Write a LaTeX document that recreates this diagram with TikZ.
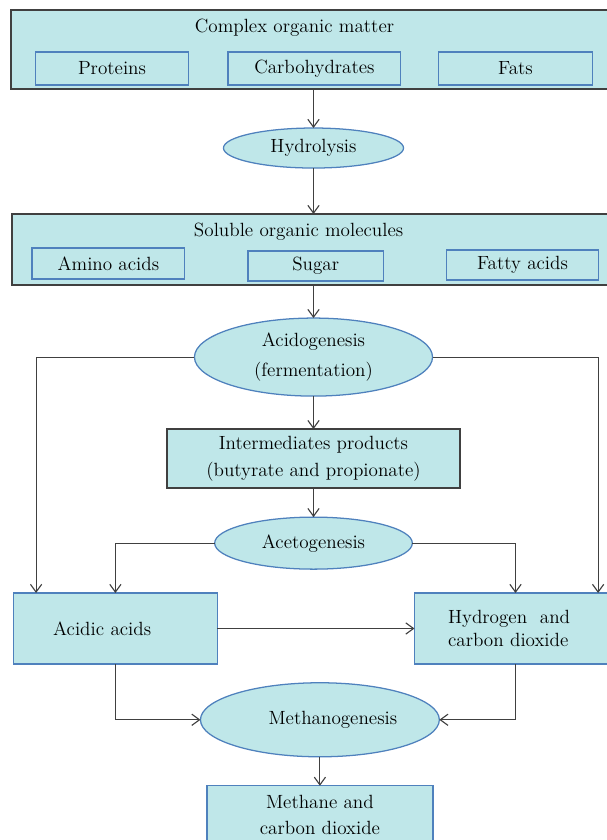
\documentclass[tikz,border=0pt]{standalone}
\usetikzlibrary{positioning,arrows.meta,shapes.geometric}
\definecolor{boxfill}{RGB}{191,231,233}
\definecolor{edgeblue}{RGB}{79,129,189}
\definecolor{edgegray}{RGB}{64,64,64}

\begin{document}
\begin{tikzpicture}[
    x=0.025cm, y=-0.025cm,
    >={Straight Barb[length=5.5pt,width=8pt]},
    font=\fontsize{13.6}{19}\selectfont,
    bigbox/.style={
        draw=edgegray,
        line width=1.1pt,
        fill=boxfill,
        inner sep=0pt,
        outer sep=0pt
    },
    item/.style={
        draw=edgeblue,
        line width=0.9pt,
        fill=boxfill,
        inner sep=0pt,
        outer sep=0pt
    },
    stage/.style={
        ellipse,
        draw=edgeblue,
        line width=0.9pt,
        fill=boxfill,
        inner sep=0pt,
        outer sep=0pt,
        align=center
    },
    product/.style={
        draw=edgeblue,
        line width=0.9pt,
        fill=boxfill,
        inner sep=0pt,
        outer sep=0pt,
        align=center
    },
    arrow/.style={->,draw=edgegray,line width=0.8pt}
]

\useasboundingbox (0,0) rectangle (606,840);

%------------------------------------------------
% Complex organic matter
%------------------------------------------------

\node[bigbox,minimum width=15.125cm,minimum height=1.975cm] (organic) at (313.5,49.5) {};
\node (organict) at (294.5,28) {Complex organic matter};

\node[item,minimum width=3.815cm,minimum height=0.825cm] (proteins) at (112,68.5) {Proteins};
\node[item,minimum width=4.32cm,minimum height=0.825cm] (carbo) at (314.4,68.5) {Carbohydrates};
\node[item,minimum width=3.85cm,minimum height=0.825cm] (fats) at (515.5,68.5) {Fats};

%------------------------------------------------
% Hydrolysis
%------------------------------------------------

\node[stage,minimum width=4.5cm,minimum height=1cm,below=0.975cm of organic] (hydro)
{Hydrolysis};

\draw[arrow] (organic)--(hydro);

%------------------------------------------------
% Soluble organic molecules
%------------------------------------------------

\node[bigbox,minimum width=15.06cm,minimum height=1.775cm,below=1.15cm of hydro] (soluble) {};
\node (solublet) at (298.6,232) {Soluble organic molecules};

\node[item,minimum width=3.82cm,minimum height=0.775cm] (amino) at (108.4,263.5) {Amino acids};
\node[item,minimum width=3.385cm,minimum height=0.75cm] (sugar) at (315.7,266) {Sugar};
\node[item,minimum width=3.79cm,minimum height=0.75cm] (fatty) at (522.5,265) {Fatty acids};

\draw[arrow] (hydro)--(soluble);

%------------------------------------------------
% Acidogenesis and acetogenesis
%------------------------------------------------

\node[stage,minimum width=5.95cm,minimum height=1.95cm,below=0.825cm of soluble,
      font=\fontsize{13.6}{21}\selectfont] (acido)
{Acidogenesis\\(fermentation)};

\node[product,draw=edgegray,line width=1.1pt,minimum width=7.31cm,minimum height=1.475cm,
      below=0.825cm of acido] (inter)
{Intermediates products\\(butyrate and propionate)};

\node[stage,minimum width=4.94cm,minimum height=1.3cm,below=0.725cm of inter] (aceto)
{Acetogenesis};

\draw[arrow] (soluble)--(acido);
\draw[arrow] (acido)--(inter);
\draw[arrow] (inter)--(aceto);

%------------------------------------------------
% Acids and gases
%------------------------------------------------

\node[product,align=left,text width=3.11cm,inner xsep=0.99cm,minimum height=1.775cm] (acidic)
at (115.4,628.5) {Acidic acids};

\node[product,align=left,text width=3.37cm,inner xsep=0.84cm,minimum height=1.775cm,
      font=\fontsize{13.6}{17}\selectfont,right=4.93cm of acidic] (hydrogen)
{Hydrogen~ and\\carbon dioxide};

\draw[arrow] (acido.west) -| ([xshift=0.5625cm]acidic.north west);
\draw[arrow] (acido.east) -| ([xshift=-0.46cm]hydrogen.north east);
\draw[arrow] (aceto.west) -| (acidic.north);
\draw[arrow] (aceto.east) -| (hydrogen.north);
\draw[arrow] (acidic)--(hydrogen);

%------------------------------------------------
% Methanogenesis
%------------------------------------------------

\node[stage,minimum width=5.97cm,minimum height=1.85cm,below=2.84cm of aceto,xshift=0.16cm] (methano)
{\hspace*{0.65cm}Methanogenesis};

\node[product,minimum width=5.65cm,minimum height=1.45cm,below=0.725cm of methano,
      font=\fontsize{13.6}{18.4}\selectfont] (methane)
{Methane and\\carbon dioxide};

\draw[arrow] (acidic.south) |- (methano.west);
\draw[arrow] (hydrogen.south) |- (methano.east);
\draw[arrow] (methano)--(methane);

\end{tikzpicture}
\end{document}
